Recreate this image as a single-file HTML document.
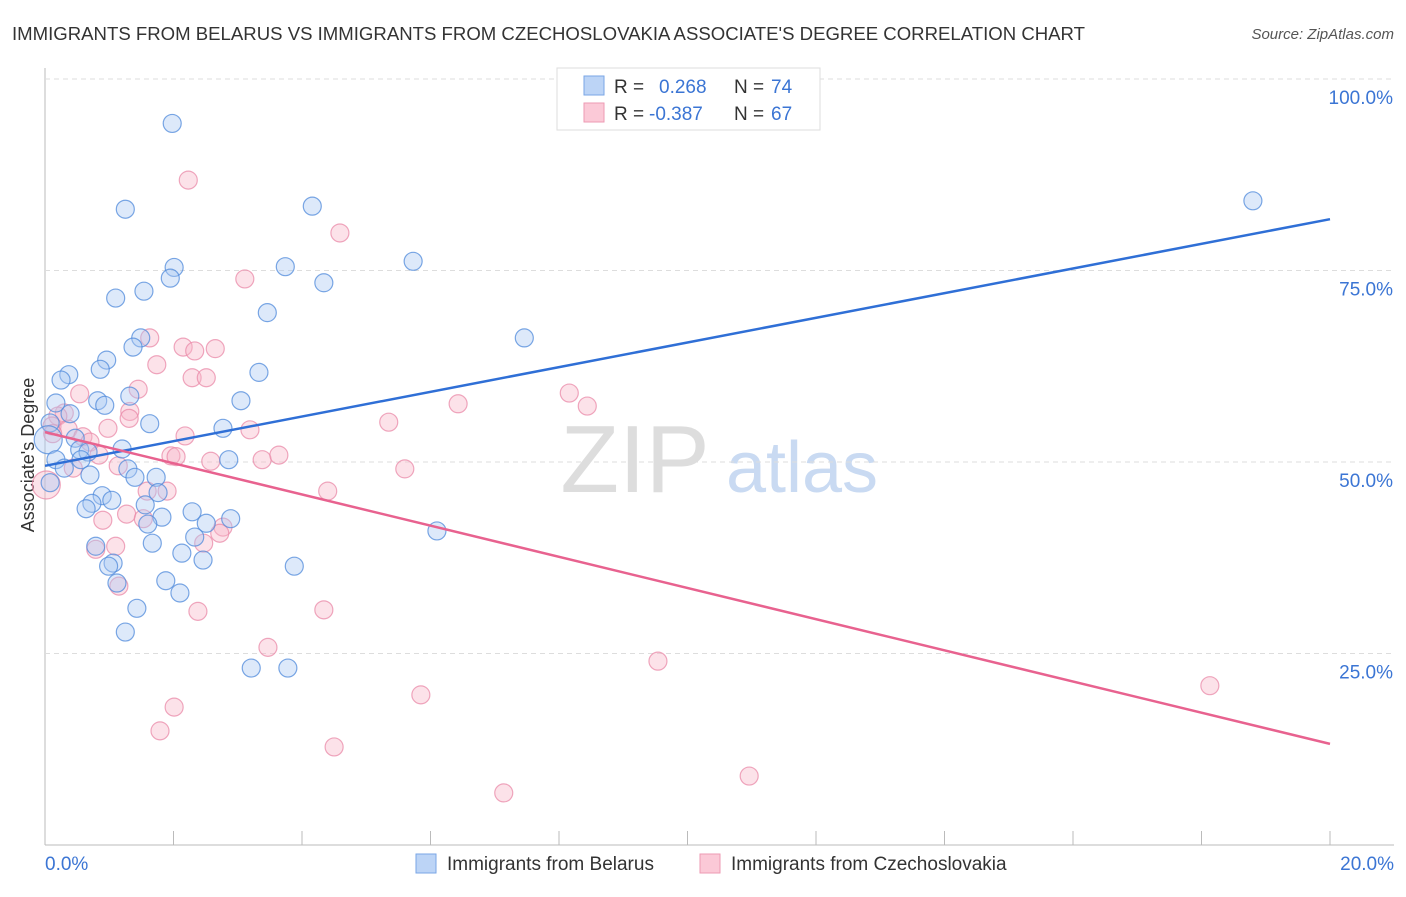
<!DOCTYPE html>
<html><head><meta charset="utf-8"><style>
body{margin:0;background:#fff;font-family:"Liberation Sans",sans-serif}
svg text{font-family:"Liberation Sans",sans-serif}
</style></head><body>
<svg id="c" width="1406" height="892">
<text x="12" y="40" font-size="18" fill="#333" textLength="1073" lengthAdjust="spacingAndGlyphs">IMMIGRANTS FROM BELARUS VS IMMIGRANTS FROM CZECHOSLOVAKIA ASSOCIATE'S DEGREE CORRELATION CHART</text>
<text x="1394" y="39" font-size="15" fill="#555" font-style="italic" text-anchor="end">Source: ZipAtlas.com</text>
<text x="635" y="492" font-size="96" fill="#ddd" font-family="Liberation Serif" text-anchor="middle">ZIP</text>
<text x="802" y="492" font-size="72" fill="#c9daf2" text-anchor="middle">atlas</text>
<text transform="translate(34,455) rotate(-90)" font-size="18" fill="#333" text-anchor="middle">Associate's Degree</text>
<g id="grid"></g><g id="pts"></g><g id="lines"></g>
<g>
<rect x="557" y="68" width="263" height="62" fill="#fff" stroke="#ddd"/>
<rect x="584" y="76" width="20" height="19" fill="#bcd4f6" stroke="#7aa6e6"/>
<rect x="584" y="103" width="20" height="19" fill="#fbc9d7" stroke="#ee9ab3"/>
<text x="614" y="93" font-size="19" fill="#333">R =</text><text x="659" y="93" font-size="19" fill="#3b75d4">0.268</text>
<text x="734" y="93" font-size="19" fill="#333">N =</text><text x="771" y="93" font-size="19" fill="#3b75d4">74</text>
<text x="614" y="120" font-size="19" fill="#333">R =</text><text x="649" y="120" font-size="19" fill="#3b75d4">-0.387</text>
<text x="734" y="120" font-size="19" fill="#333">N =</text><text x="771" y="120" font-size="19" fill="#3b75d4">67</text>
</g>
<g>
<rect x="416" y="854" width="20" height="19" fill="#bcd4f6" stroke="#7aa6e6"/>
<text x="447" y="870" font-size="19" fill="#333">Immigrants from Belarus</text>
<rect x="700" y="854" width="20" height="19" fill="#fbc9d7" stroke="#ee9ab3"/>
<text x="731" y="870" font-size="19" fill="#333">Immigrants from Czechoslovakia</text>
</g>
</svg>
<script>
const xTicks=[0,2,4,6,8,10,12,14,16,18,20];
const yTicks=[25,50,75,100];
const belX=[1.98,1.25,4.16,2.01,1.95,3.74,5.73,4.34,1.10,1.54,3.46,1.49,1.37,7.46,0.96,0.86,0.37,0.25,3.33,0.17,0.82,0.93,1.32,3.05,0.39,1.63,2.77,0.08,0.05,0.47,0.54,0.67,1.20,0.56,0.17,0.30,1.29,0.70,1.40,2.86,1.73,1.76,0.08,0.89,1.04,0.73,1.56,0.64,2.29,1.82,1.60,2.51,2.89,6.10,2.33,1.67,0.79,2.13,1.06,0.99,2.46,3.88,1.12,1.88,2.10,1.43,1.25,3.21,3.78,18.80];
const belY=[94.2,83.0,83.4,75.4,74.0,75.5,76.2,73.4,71.4,72.3,69.5,66.2,65.0,66.2,63.3,62.1,61.4,60.7,61.7,57.7,58.0,57.4,58.6,58.0,56.3,55.0,54.4,55.1,52.9,53.1,51.6,51.3,51.7,50.3,50.3,49.2,49.1,48.3,48.0,50.3,48.0,46.0,47.3,45.6,45.0,44.6,44.4,43.9,43.5,42.8,41.9,42.0,42.6,41.0,40.2,39.4,39.0,38.1,36.8,36.4,37.2,36.4,34.2,34.5,32.9,30.9,27.8,23.1,23.1,84.1];
const czX=[2.23,4.59,3.11,1.63,2.15,2.65,2.33,1.74,2.29,2.51,1.45,0.54,8.16,8.44,6.43,1.32,0.30,0.20,1.31,5.35,0.11,0.36,0.98,3.19,2.18,0.59,0.70,0.12,0.84,1.96,2.04,2.58,3.38,3.64,1.14,5.60,0.44,0.02,1.59,1.90,4.40,1.27,0.90,1.53,2.77,2.72,2.47,1.10,0.79,1.15,2.38,4.34,3.47,9.54,5.85,18.13,2.01,1.79,4.50,10.96,7.14];
const czY=[86.8,79.9,73.9,66.2,65.0,64.8,64.5,62.7,61.0,61.0,59.5,58.9,59.0,57.3,57.6,56.6,56.4,56.0,55.7,55.2,54.7,54.3,54.4,54.2,53.4,53.3,52.6,53.7,50.9,50.8,50.7,50.1,50.3,50.9,49.5,49.1,49.2,47.0,46.2,46.2,46.2,43.2,42.4,42.6,41.5,40.7,39.4,39.0,38.6,33.8,30.5,30.7,25.8,24.0,19.6,20.8,18.0,14.9,12.8,9.0,6.8];
const belTrend=[49.5,81.7];
const czTrend=[53.9,13.2];
const X=v=>45+v/20*1285, Y=v=>845-v/100*766;
const NS="http://www.w3.org/2000/svg";
function mk(t,a,p){const e=document.createElementNS(NS,t);for(const k in a)e.setAttribute(k,a[k]);p.appendChild(e);return e;}
const g=document.getElementById('grid');
let ax=mk('line',{x1:45,y1:68,x2:45,y2:845,stroke:'#bbb'},g);


let bx=mk('line',{x1:45,y1:845,x2:1394,y2:845,stroke:'#bbb'},g);


yTicks.forEach(v=>{
 const l=mk('line',{x1:45,y1:Y(v),x2:1394,y2:Y(v),stroke:'#ddd','stroke-dasharray':'5,4'},g);
 
 
 const t=mk('text',{x:1393,y:Y(v)+25,'font-size':19,fill:'#3b75d4','text-anchor':'end'},g);t.textContent=v.toFixed(1)+'%';
 
 
});
xTicks.forEach(v=>{
 const l=mk('line',{x1:X(v),y1:831,x2:X(v),y2:845,stroke:'#bbb'},g);
 
 
});
[[0,'0.0%','start',45],[20,'20.0%','end',1394]].forEach(([v,s,a,x])=>{
 const t=mk('text',{x:x,y:870,'font-size':19,fill:'#3b75d4','text-anchor':a},g);t.textContent=s;
 
 
});
const p=document.getElementById('pts');
function draw(xs,ys,fill,stroke,name){xs.forEach((x,i)=>{
 const r=(x<0.06)?14:9;
 const c=mk('circle',{cx:X(x),cy:Y(ys[i]),r:r,fill:fill,'fill-opacity':0.4,stroke:stroke,'stroke-opacity':0.75,'stroke-width':1.2},p);
 
 
});}
draw(czX,czY,'#f7b6c9','#e98aa8','point-czechoslovakia');
draw(belX,belY,'#a9c8f2','#4f89db','point-belarus');
const L=document.getElementById('lines');
const b=mk('line',{x1:X(0),y1:Y(belTrend[0]),x2:X(20),y2:Y(belTrend[1]),stroke:'#2f6fd6','stroke-width':2.5},L);


const c=mk('line',{x1:X(0),y1:Y(czTrend[0]),x2:X(20),y2:Y(czTrend[1]),stroke:'#e8628f','stroke-width':2.5},L);


</script>
</body></html>
